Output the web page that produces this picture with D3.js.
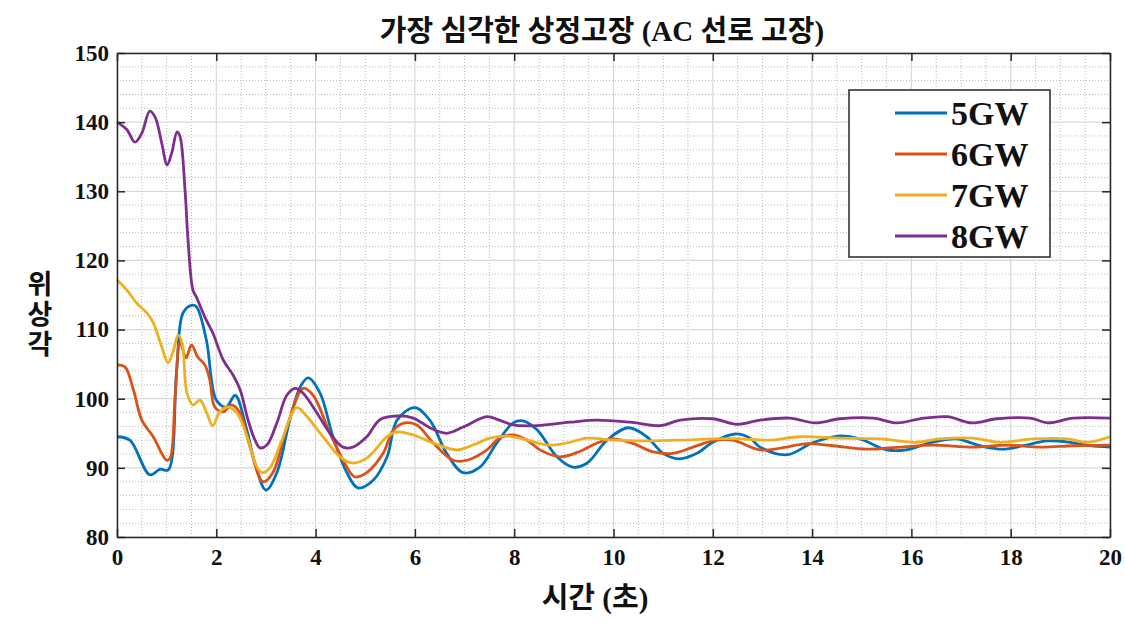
<!DOCTYPE html>
<html><head><meta charset="utf-8">
<script src="https://cdn.jsdelivr.net/npm/d3@7"></script>
<style>body{margin:0;background:#fff}svg{display:block}</style>
</head><body>
<svg id="chart" width="1125" height="635"></svg>
<script>
// ---- data ----
const titleText = "가장 심각한 상정고장 (AC 선로 고장)";
const xLabel = "시간 (초)";
const yLabel = "위상각";
const seriesNames = ["5GW","6GW","7GW","8GW"];
const xTicks = [0,2,4,6,8,10,12,14,16,18,20];
const yTicks = [80,90,100,110,120,130,140,150];

const t5 = [0,0.26,0.66,0.87,1.03,1.2,1.33,1.5,1.6,1.8,2.0,2.2,2.38,2.6,2.8,3.0,3.22,3.48,3.69,3.85,4.09,4.35,4.63,4.85,5.16,5.44,5.64,6.0,6.3,6.64,6.97,7.31,7.65,7.98,8.18,8.46,8.86,9.18,9.47,9.87,10.3,10.67,11.0,11.34,11.68,12.0,12.45,12.75,12.95,13.5,14.0,14.52,14.96,15.5,15.9,16.37,16.9,17.38,17.84,18.25,18.73,19.2,19.6,20];
const v5 = [94.5,94.0,89.0,89.8,89.7,104,112.4,113.5,113.3,108.5,99.8,98.8,100.5,95.9,90.1,86.8,89.3,96.9,101.7,103.0,100.8,94.5,89.3,87.1,88.2,91.6,96.9,98.7,96.9,92.1,89.3,90.1,93.6,96.5,96.8,95.5,91.6,90.1,90.7,94.0,95.8,94.5,92.1,91.3,92.1,93.7,94.9,94.3,93.0,91.9,93.6,94.6,94.2,92.6,92.6,93.6,94.2,93.2,92.7,93.2,93.9,93.7,93.2,93.0];

const t6 = [0,0.16,0.33,0.5,0.73,1.0,1.07,1.17,1.27,1.39,1.5,1.63,1.77,1.87,1.97,2.14,2.31,2.48,2.68,2.94,3.14,3.42,3.75,3.95,4.29,4.63,4.79,5.03,5.36,5.57,5.8,6.04,6.37,6.77,7.05,7.45,7.7,7.98,8.26,8.52,8.92,9.33,9.67,10.0,10.4,10.8,11.2,11.6,12.0,12.4,12.95,13.4,13.9,14.42,15.1,15.77,16.44,17.24,17.92,18.6,19.26,20];
const v6 = [104.9,104.6,101.3,96.9,94.5,91.1,91.4,100.2,108.2,105.9,107.8,106.0,104.9,102.7,98.8,98.1,99.1,97.9,93.0,88.0,89.3,95.9,101.5,100.5,95.0,90.1,88.7,89.3,92.1,95.5,96.5,96.2,93.6,91.1,91.1,92.6,94.3,94.75,94.0,92.6,91.6,92.4,93.6,94.2,93.5,92.3,92.1,93.0,93.9,94.0,92.6,92.9,93.5,93.2,92.7,93.0,93.3,93.0,93.3,93.0,93.2,93.3];

const t7 = [0,0.2,0.4,0.6,0.73,0.9,1.03,1.13,1.23,1.31,1.41,1.53,1.67,1.81,1.93,2.07,2.24,2.42,2.62,2.82,2.92,3.08,3.32,3.62,3.83,4.15,4.49,4.75,5.03,5.44,5.64,5.97,6.37,6.84,7.17,7.51,7.85,8.18,8.66,9.06,9.47,10.0,10.67,11.34,12.0,12.55,13.1,13.76,14.56,15.37,16.1,16.58,17.24,17.78,18.45,19.13,19.54,20];
const v7 = [117.2,115.7,113.8,112.4,111.0,107.5,105.2,106.8,109.2,108.1,100.8,99.1,99.8,97.9,96.1,98.1,98.8,97.9,94.5,90.1,89.3,90.0,94.0,98.7,97.4,94.5,91.6,90.7,91.4,94.5,95.2,94.75,93.6,92.6,93.3,94.3,94.6,94.2,93.3,93.6,94.3,94.0,93.9,94.0,94.2,94.2,94.0,94.5,94.3,94.2,93.7,94.2,94.3,93.7,94.2,94.2,93.7,94.5];

const t8 = [0,0.2,0.36,0.5,0.66,0.77,0.9,1.01,1.1,1.21,1.27,1.37,1.43,1.53,1.6,1.77,1.93,2.14,2.34,2.48,2.64,2.78,2.88,3.02,3.22,3.42,3.59,3.75,4.03,4.29,4.55,4.75,5.03,5.3,5.64,5.97,6.3,6.64,6.97,7.45,7.7,7.98,8.46,9.12,9.67,10.33,10.94,11.34,12.0,12.49,12.95,13.55,14.06,14.56,15.23,15.71,16.17,16.72,17.22,17.72,18.39,18.75,19.26,20];
const v8 = [140.0,138.9,137.1,138.4,141.6,140.7,137.0,133.8,135.5,138.6,137.9,130.2,123.0,115.7,114.7,111.8,109.5,105.6,103.4,101.3,96.9,94.0,92.9,93.3,96.5,100.5,101.5,100.8,97.9,95.0,93.0,93.0,94.5,97.0,97.5,97.2,95.8,95.0,95.9,97.4,96.9,96.2,96.1,96.6,96.9,96.6,96.1,96.9,97.1,96.3,96.9,97.2,96.5,97.1,97.2,96.5,97.1,97.4,96.5,97.1,97.2,96.5,97.2,97.2];

const colors = ["#0072BD","#D95319","#EDB120","#7E2F8E"];
const seriesT = [t5,t6,t7,t8];
const seriesV = [v5,v6,v7,v8];

// ---- layout ----
const svg = d3.select("#chart");
const L = 117, R = 1110, T = 53, B = 537;
const x = d3.scaleLinear().domain([0,20]).range([L,R]);
const y = d3.scaleLinear().domain([80,150]).range([B,T]);

// grid minor
const g = svg.append("g");
const xMinor = d3.range(0,20.01,0.5).filter(v => v % 2 !== 0);
const yMinor = d3.range(80,150.01,2).filter(v => v % 10 !== 0);
g.selectAll(".xm").data(xMinor).join("line")
  .attr("x1",d=>x(d)).attr("x2",d=>x(d)).attr("y1",T).attr("y2",B)
  .attr("stroke","#b8b8b8").attr("stroke-width",1).attr("stroke-dasharray","1,2");
g.selectAll(".ym").data(yMinor).join("line")
  .attr("y1",d=>y(d)).attr("y2",d=>y(d)).attr("x1",L).attr("x2",R)
  .attr("stroke","#b8b8b8").attr("stroke-width",1).attr("stroke-dasharray","1,2");
// grid major
g.selectAll(".xM").data(xTicks).join("line")
  .attr("x1",d=>x(d)).attr("x2",d=>x(d)).attr("y1",T).attr("y2",B)
  .attr("stroke","#d9d9d9").attr("stroke-width",1.2);
g.selectAll(".yM").data(yTicks).join("line")
  .attr("y1",d=>y(d)).attr("y2",d=>y(d)).attr("x1",L).attr("x2",R)
  .attr("stroke","#d9d9d9").attr("stroke-width",1.2);

// lines
const line = d3.line().curve(d3.curveCatmullRom.alpha(0.5));
seriesT.forEach((ts,i) => {
  const pts = ts.map((t,j) => [x(t), y(seriesV[i][j])]);
  svg.append("path").attr("d", line(pts)).attr("fill","none")
    .attr("stroke", colors[i]).attr("stroke-width",2.8).attr("stroke-linejoin","round");
});

// axes
const fontSerif = "'Liberation Serif','Times New Roman',serif";
const axB = d3.axisBottom(x).tickValues(xTicks).tickSize(-8).tickSizeOuter(0).tickPadding(12);
const axL = d3.axisLeft(y).tickValues(yTicks).tickSize(-8).tickSizeOuter(0).tickPadding(8);
const axT = d3.axisTop(x).tickValues(xTicks).tickSize(-8).tickSizeOuter(0).tickFormat("");
const axR = d3.axisRight(y).tickValues(yTicks).tickSize(-8).tickSizeOuter(0).tickFormat("");
function style(sel){
  sel.selectAll("path").attr("stroke","#262626").attr("stroke-width",1.5);
  sel.selectAll("line").attr("stroke","#262626").attr("stroke-width",1.5);
  sel.selectAll("text").attr("fill","#111").attr("font-family",fontSerif)
    .attr("font-weight","bold").attr("font-size","23px");
}
svg.append("g").attr("transform",`translate(0,${B})`).call(axB).call(style);
svg.append("g").attr("transform",`translate(${L},0)`).call(axL).call(style);
svg.append("g").attr("transform",`translate(0,${T})`).call(axT).call(style);
svg.append("g").attr("transform",`translate(${R},0)`).call(axR).call(style);

// title
svg.append("text").attr("x",602).attr("y",41).attr("text-anchor","middle")
  .attr("font-family","'Liberation Serif','Noto Sans CJK KR',serif").attr("font-weight","bold")
  .attr("font-size","29px").attr("fill","#111").text(titleText);
// x label
svg.append("text").attr("x",595).attr("y",608).attr("text-anchor","middle")
  .attr("font-family","'Liberation Serif','Noto Sans CJK KR',serif").attr("font-weight","bold")
  .attr("font-size","29px").attr("fill","#111").text(xLabel);
// y label stacked vertically (single text)
svg.append("text").attr("x",40).attr("y",270)
  .attr("writing-mode","vertical-rl").attr("text-orientation","upright")
  .attr("letter-spacing","3px")
  .attr("font-family","'Noto Sans CJK KR',sans-serif").attr("font-weight","bold")
  .attr("font-size","27px").attr("fill","#111").text(yLabel);

// legend
const lg = svg.append("g");
lg.append("rect").attr("x",849).attr("y",90).attr("width",201).attr("height",167)
  .attr("fill","#fff").attr("stroke","#262626").attr("stroke-width",1.5);
seriesNames.forEach((n,i) => {
  const yy = 113 + i*41;
  lg.append("line").attr("x1",895).attr("x2",947).attr("y1",yy).attr("y2",yy)
    .attr("stroke",colors[i]).attr("stroke-width",3);
  lg.append("text").attr("x",951).attr("y",yy+12).attr("font-family",fontSerif)
    .attr("font-weight","bold").attr("font-size","34px").attr("fill","#111").text(n);
});
</script>
</body></html>
